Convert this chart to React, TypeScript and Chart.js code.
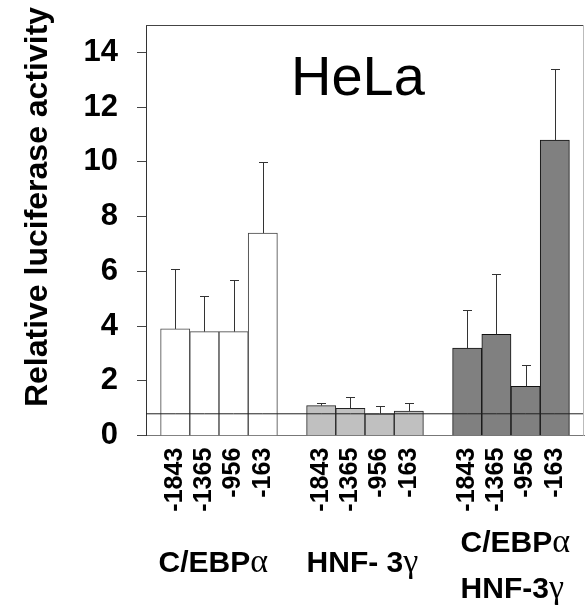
import React, { useEffect, useRef } from "react";
import { Chart, registerables } from "chart.js";

Chart.register(...registerables);

const promoterLabels = ["-1843", "-1365", "-956", "-163"];
const cebpValues = [3.9, 3.8, 3.8, 7.4];
const cebpErrors = [2.2, 1.3, 1.9, 2.6];
const hnfValues = [1.1, 1.0, 0.8, 0.9];
const hnfErrors = [0.1, 0.4, 0.3, 0.3];
const bothValues = [3.2, 3.7, 1.8, 10.8];
const bothErrors = [1.4, 2.2, 0.8, 2.6];
const baselineValue = 0.8;
const yTicks = [0, 2, 4, 6, 8, 10, 12, 14];
const chartTitle = "HeLa";
const yTitle = "Relative luciferase activity";

const SANS = "'Liberation Sans', Arial, sans-serif";
const SERIF = "'Liberation Serif', 'Times New Roman', serif";

// category layout: gap, group1, gap, group2, gap, group3, gap
const labels = ["", ...promoterLabels, "", ...promoterLabels, "", ...promoterLabels, ""];
const pad = (arr: number[], groupIndex: number) => {
  const out: (number | null)[] = labels.map(() => null);
  arr.forEach((v, i) => {
    out[1 + groupIndex * 5 + i] = v;
  });
  return out;
};

type Part = { text: string; font: string };

function drawParts(ctx: CanvasRenderingContext2D, parts: Part[], x: number, y: number) {
  let cx = x;
  ctx.textAlign = "left";
  ctx.textBaseline = "alphabetic";
  for (const p of parts) {
    ctx.font = p.font;
    ctx.fillText(p.text, cx, y);
    cx += ctx.measureText(p.text).width;
  }
}

const errorBarPlugin = {
  id: "errorBars",
  afterDatasetsDraw(chart: any) {
    const ctx = chart.ctx;
    const yScale = chart.scales.y;
    const errs = [cebpErrors, hnfErrors, bothErrors];
    const vals = [cebpValues, hnfValues, bothValues];
    ctx.save();
    ctx.strokeStyle = "#333";
    ctx.lineWidth = 1;
    for (let d = 0; d < 3; d++) {
      const meta = chart.getDatasetMeta(d + 1);
      vals[d].forEach((v, i) => {
        const el = meta.data[1 + d * 5 + i];
        if (!el) return;
        const x = Math.round(el.x) + 0.5;
        const y0 = yScale.getPixelForValue(v);
        const y1 = Math.round(yScale.getPixelForValue(v + errs[d][i])) + 0.5;
        ctx.beginPath();
        ctx.moveTo(x, y0);
        ctx.lineTo(x, y1);
        ctx.moveTo(x - 4.5, y1);
        ctx.lineTo(x + 4.5, y1);
        ctx.stroke();
      });
    }
    ctx.restore();
  },
};

const decorPlugin = {
  id: "decor",
  afterDraw(chart: any) {
    const ctx = chart.ctx;
    const area = chart.chartArea;
    const xs = chart.scales.x;
    ctx.save();
    // frame: top and right
    ctx.lineWidth = 1;
    ctx.strokeStyle = "#444";
    ctx.beginPath();
    ctx.moveTo(area.left, Math.round(area.top) + 0.5);
    ctx.lineTo(area.right, Math.round(area.top) + 0.5);
    ctx.stroke();
    ctx.strokeStyle = "#bbb";
    ctx.beginPath();
    ctx.moveTo(Math.round(area.right) - 0.5, area.top);
    ctx.lineTo(Math.round(area.right) - 0.5, area.bottom);
    ctx.stroke();

    ctx.fillStyle = "#000";
    // HeLa title
    ctx.font = `56px ${SANS}`;
    ctx.textAlign = "left";
    ctx.textBaseline = "alphabetic";
    ctx.fillText(chartTitle, 291, 95);

    // y title
    ctx.save();
    ctx.translate(47, 207);
    ctx.rotate(-Math.PI / 2);
    ctx.font = `bold 32px ${SANS}`;
    ctx.textAlign = "center";
    ctx.textBaseline = "alphabetic";
    ctx.fillText(yTitle, 0, 0);
    ctx.restore();

    const half = (xs.getPixelForValue(2) - xs.getPixelForValue(1)) / 2;
    const g1 = xs.getPixelForValue(1) - half;
    const g2 = xs.getPixelForValue(6) - half;
    const g3 = xs.getPixelForValue(11) - half;
    const bold = `bold 30px ${SANS}`;
    const greek = `34px ${SERIF}`;
    drawParts(ctx, [{ text: "C/EBP", font: bold }, { text: "α", font: greek }], g1 - 2, 572);
    drawParts(ctx, [{ text: "HNF- 3", font: bold }, { text: "γ", font: greek }], g2, 572);
    drawParts(ctx, [{ text: "C/EBP", font: bold }, { text: "α", font: greek }], g3 + 8, 552);
    drawParts(ctx, [{ text: "HNF-3", font: bold }, { text: "γ", font: greek }], g3 + 8, 598);
    ctx.restore();
  },
};

export default function App() {
  const ref = useRef<HTMLCanvasElement>(null);
  useEffect(() => {
    document.body.style.margin = "0";
    const chart = new Chart(ref.current!, {
      type: "bar",
      data: {
        labels,
        datasets: [
          {
            type: "line",
            data: labels.map(() => baselineValue),
            borderColor: "#222",
            borderWidth: 1,
            pointRadius: 0,
            fill: false,
            order: 0,
          } as any,
          {
            data: pad(cebpValues, 0),
            backgroundColor: "#ffffff",
            borderColor: "#444",
            borderWidth: 1,
            grouped: false,
            order: 1,
          },
          {
            data: pad(hnfValues, 1),
            backgroundColor: "#c0c0c0",
            borderColor: "#222",
            borderWidth: 1,
            grouped: false,
            order: 1,
          },
          {
            data: pad(bothValues, 2),
            backgroundColor: "#808080",
            borderColor: "#111",
            borderWidth: 1,
            grouped: false,
            order: 1,
          },
        ],
      },
      options: {
        responsive: false,
        animation: false,
        barPercentage: 1,
        categoryPercentage: 1,
        layout: { padding: { top: 25, right: 1, left: 0, bottom: 0 } },
        plugins: { legend: { display: false }, tooltip: { enabled: false } },
        scales: {
          x: {
            offset: false,
            grid: { display: false, drawTicks: false },
            border: { display: true, color: "#777", width: 1 },
            ticks: {
              autoSkip: false,
              minRotation: 90,
              maxRotation: 90,
              padding: 12,
              color: "#000",
              font: { family: SANS, size: 25, weight: "bold" },
            },
            afterFit: (s: any) => {
              s.height = 170.3;
              s.paddingLeft = 0;
              s.paddingRight = 0;
              s.paddingTop = 0;
              s.paddingBottom = 0;
            },
          },
          y: {
            min: 0,
            max: 15,
            afterBuildTicks: (s: any) => {
              s.ticks = yTicks.map((v) => ({ value: v }));
            },
            grid: { drawOnChartArea: false, drawTicks: true, tickLength: 9, color: "#444" },
            border: { display: true, color: "#333", width: 1 },
            ticks: {
              padding: 19,
              color: "#000",
              font: { family: SANS, size: 31, weight: "bold" },
            },
            afterFit: (s: any) => {
              s.width = 146;
              s.paddingLeft = 0;
              s.paddingRight = 0;
              s.paddingTop = 0;
              s.paddingBottom = 0;
            },
          },
        },
      },
      plugins: [errorBarPlugin, decorPlugin],
    } as any);
    return () => chart.destroy();
  }, []);
  return (
    <div style={{ width: 585, height: 606 }}>
      <canvas ref={ref} width={585} height={606} />
    </div>
  );
}
